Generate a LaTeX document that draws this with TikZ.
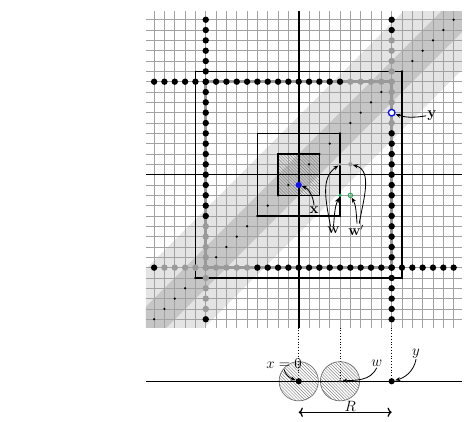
\documentclass[tikz,border=0pt]{standalone}
\usepackage{amsmath}
\usetikzlibrary{patterns,arrows.meta}
\definecolor{gridc}{HTML}{A2A2A2}
\definecolor{bandlight}{HTML}{E4E4E4}
\definecolor{banddark}{HTML}{C6C6C6}
\definecolor{dotgray}{HTML}{9A9A9A}
\definecolor{ptblue}{HTML}{1010EE}
\definecolor{ptgreen}{HTML}{22AA55}
\begin{document}
\begin{tikzpicture}[x=0.35cm,y=0.35cm,
  every node/.style={font=\fontsize{13.5}{16}\selectfont,inner sep=1pt},
  gridline/.style={draw=gridc,line width=0.55pt},
  arr/.style={-{Stealth[length=5pt,width=4pt]},line width=0.8pt},
  dropline/.style={dash pattern=on 1.1pt off 1.6pt,line width=1pt},
  hatchfill/.style={pattern=north west lines,pattern color=gray}]
\useasboundingbox (-28.92,-23.94) rectangle (16.97,16.91);
% bands
\begin{scope}
  \clip (-14.8,-14.8) rectangle (15.8,15.8);
  \fill[bandlight] (-40,-34.34) -- (40,45.66) -- (40,34.34) -- (-40,-45.66) -- cycle;
  \fill[banddark] (-40,-38) -- (40,42) -- (40,38) -- (-40,-42) -- cycle;
\end{scope}
% grid
\foreach \i in {-14,...,15} {
  \draw[gridline] (\i,-14.8) -- (\i,15.8);
  \draw[gridline] (-14.8,\i) -- (15.8,\i);
}
% hatched square
\draw[line width=1.2pt,hatchfill] (-2,-2) rectangle (2,2);
% gray square path
\draw[dotgray,line width=2.8pt] (-9,-9) rectangle (9,9);
% diagonal dots
\foreach \k in {-14,...,15} \fill (\k,\k) circle (0.12);
% boxes
\draw[line width=1.5pt] (-10,-10) rectangle (10,10);
\draw[line width=1.3pt] (-4,-4) rectangle (4,4);
% axes
\draw[line width=1.6pt] (-14.8,0) -- (15.8,0);
\draw[line width=1.6pt] (0,15.8) -- (0,-14.8);
% dotted paths
\foreach \x in {-14,...,4} \fill (\x,9) circle (0.31);
\foreach \x in {5,...,9} \fill[dotgray] (\x,9) circle (0.31);
\foreach \y in {-14,-4,-3,...,15} \fill (-9,\y) circle (0.31);
\foreach \y in {-13,...,-5} \fill[dotgray] (-9,\y) circle (0.31);
\foreach \y in {-14,...,4} \fill (9,\y) circle (0.31);
\foreach \y in {14,15} \fill (9,\y) circle (0.31);
\foreach \y in {5,...,13} \fill[dotgray] (9,\y) circle (0.31);
\foreach \x in {-14,-4,-3,...,15} \fill (\x,-9) circle (0.31);
\foreach \x in {-13,...,-5} \fill[dotgray] (\x,-9) circle (0.31);
% special points
\coordinate (X) at (0,-1);
\coordinate (Y) at (9,6);
\coordinate (W) at (4,-2);
\coordinate (Wp) at (5,-2);
\coordinate (G) at (4,1);
\coordinate (Gp) at (5,1);
\fill[ptblue] (X) circle (0.3);
\draw[ptblue,line width=1.3pt,fill=white] (Y) circle (0.32);
\fill[ptgreen] (W) circle (0.18);
\draw[ptgreen,line width=1pt] (Wp) circle (0.21);
\fill[dotgray] (G) circle (0.14);
\fill[dotgray] (Gp) circle (0.21);
% labels
\node (lx) at (1.48,-3.39) {$\mathbf{x}$};
\node (ly) at (12.9,5.7) {$\mathbf{y}$};
\node (lw) at (3.37,-5.4) {$\mathbf{w}$};
\node (lwp) at (5.55,-5.38) {$\mathbf{w}'$};
\draw[arr,shorten >=3pt] (lx.north) to[out=95,in=-20] (X);
\draw[arr,shorten >=4pt] (ly.west) to[out=190,in=-20] (Y);
\draw[arr,shorten >=2.5pt] ([xshift=0pt]lw.north) to[out=85,in=245] (W);
\draw[arr,shorten >=2pt] ([xshift=-3pt]lw.north) to[out=100,in=215] (G);
\draw[arr,shorten >=2.5pt] ([xshift=1pt]lwp.north) to[out=95,in=-60] (Wp);
\draw[arr,shorten >=2.5pt] ([xshift=3pt]lwp.north) to[out=80,in=-15] (Gp);
% bottom part
\coordinate (B0) at (0,-20);
\coordinate (B4) at (4,-20);
\coordinate (B9) at (9,-20);
\coordinate (T0) at (0,-14.8);
\coordinate (T4) at (4,-14.8);
\coordinate (T9) at (9,-14.8);
\draw[dropline] (T0) -- (B0);
\draw[dropline] (T4) -- (B4);
\draw[dropline] (T9) -- (B9);
\draw[draw=black!60,line width=0.6pt,hatchfill] (B0) circle (1.9);
\draw[draw=black!60,line width=0.6pt,hatchfill] (B4) circle (1.9);
\draw[line width=1.4pt] (-14.8,-20) -- (15.8,-20);
\fill (B0) circle (0.3);
\fill[black!75] (B4) circle (0.14);
\fill (B9) circle (0.3);
\node (l0) at (-1.42,-18.26) {$x=0$};
\node (lw2) at (7.55,-18.26) {$w$};
\node (ly2) at (11.36,-17.29) {$y$};
\draw[arr,shorten >=3pt] (l0.south) to[out=-75,in=160] (B0);
\draw[arr,shorten >=2pt] (lw2.south) to[out=-115,in=5] (B4);
\draw[arr,shorten >=3.5pt] (ly2.south) to[out=-100,in=15] (B9);
\coordinate (R0) at (0,-23);
\coordinate (R9) at (9,-23);
\draw[{Computer Modern Rightarrow[length=4pt,width=9pt]}-{Computer Modern Rightarrow[length=4pt,width=9pt]},line width=1.2pt] (R0) -- (R9);
\node[anchor=south,inner sep=0.5pt] (lR) at (5,-23) {$R$};
\end{tikzpicture}
\end{document}
